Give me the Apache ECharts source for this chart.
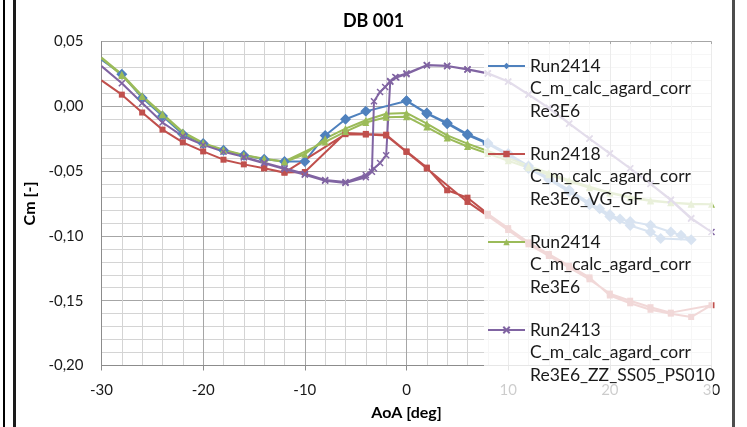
<!DOCTYPE html>
<html>
<head>
<meta charset="utf-8">
<script src="https://cdn.jsdelivr.net/npm/echarts@6/dist/echarts.min.js"></script>
<style>
  html, body { margin: 0; padding: 0; background: #ffffff; }
  #chart { width: 747px; height: 427px; }
</style>
</head>
<body>
<div id="chart"></div>
<script>
// Pitching moment Cm versus angle of attack, full up/down sweeps per run.

// Run2414, C_m_calc_agard_corr, Re3E6 (diamonds)
const aoaRun2414a = [-30, -28, -26, -24, -22, -20, -18, -16, -14, -12, -10, -8, -6, -4, 0, 2, 4, 6, 8, 10, 12, 14, 16, 18, 20, 22, 24, 25, 28,
                     27, 26, 24, 22, 21, 20, 19, 18, 16, 14, 12, 10, 8, 6, 4, 2, 0];
const cmRun2414a  = [0.0360, 0.0247, 0.0065, -0.0075, -0.0216, -0.0288, -0.0340, -0.0378, -0.0409, -0.0425, -0.0425, -0.0226, -0.0100, -0.0039, 0.0041, -0.0057, -0.0134, -0.0222, -0.0290, -0.0378, -0.0480, -0.0565, -0.0660, -0.0760, -0.0850, -0.0920, -0.0970, -0.1020, -0.1030,
                     -0.0995, -0.0970, -0.0918, -0.0888, -0.0870, -0.0835, -0.0790, -0.0745, -0.0645, -0.0555, -0.0460, -0.0365, -0.0283, -0.0215, -0.0128, -0.0052, 0.0043];

// Run2418, C_m_calc_agard_corr, Re3E6_VG_GF (squares)
const aoaRun2418 = [-30, -28, -26, -24, -22, -20, -18, -16, -14, -12, -10, -6, -4, -2, 0, 2, 4, 6, 8, 10, 12, 14, 16, 18, 20, 22, 24, 26, 28, 30,
                    26, 24, 22, 20, 18, 16, 14, 12, 10, 8, 6, 2, 0, -2, -4, -6, -12, -14];
const cmRun2418  = [0.0200, 0.0090, -0.0048, -0.0180, -0.0278, -0.0348, -0.0412, -0.0448, -0.0478, -0.0510, -0.0507, -0.0206, -0.0213, -0.0219, -0.0348, -0.0473, -0.0648, -0.0705, -0.0830, -0.0940, -0.1050, -0.1140, -0.1230, -0.1320, -0.1460, -0.1520, -0.1570, -0.1600, -0.1626, -0.1535,
                    -0.1592, -0.1550, -0.1500, -0.1445, -0.1335, -0.1245, -0.1155, -0.1065, -0.0955, -0.0845, -0.0738, -0.0480, -0.0352, -0.0225, -0.0218, -0.0215, -0.0512, -0.0478];

// Run2414, C_m_calc_agard_corr, Re3E6 (triangles)
const aoaRun2414b = [-30, -28, -26, -24, -22, -20, -18, -16, -14, -12, -10, -8, -6, -4, -2, 0, 2, 4, 6, 8, 10, 12, 14, 16, 18, 20, 22, 24, 26, 28, 30,
                     28, 26, 24, 22, 20, 18, 16, 14, 12, 10, 8, 6, 4, 2, 0, -2, -4, -6, -8, -12, -14, -16, -18, -20, -22, -24, -26, -28, -30];
const cmRun2414b  = [0.0370, 0.0238, 0.0075, -0.0065, -0.0205, -0.0285, -0.0335, -0.0375, -0.0405, -0.0430, -0.0370, -0.0250, -0.0172, -0.0108, -0.0057, -0.0051, -0.0134, -0.0224, -0.0288, -0.0345, -0.0400, -0.0460, -0.0515, -0.0570, -0.0620, -0.0665, -0.0700, -0.0725, -0.0742, -0.0752, -0.0756,
                     -0.0755, -0.0745, -0.0730, -0.0705, -0.0670, -0.0628, -0.0580, -0.0528, -0.0475, -0.0420, -0.0365, -0.0310, -0.0245, -0.0160, -0.0080, -0.0085, -0.0125, -0.0195, -0.0275, -0.0425, -0.0405, -0.0378, -0.0338, -0.0282, -0.0198, -0.0058, 0.0082, 0.0248, 0.0376];

// Run2413, C_m_calc_agard_corr, Re3E6_ZZ_SS05_PS010 (crosses)
const aoaRun2413 = [-30, -28, -26, -24, -22, -20, -18, -16, -14, -12, -10, -8, -6, -4, -3.2, -2.6, -2, -1.6, -1, 0, 2, 4, 6, 8, 10, 12, 14, 16, 18, 20, 22, 24, 26, 28, 30,
                    28, 26, 24, 22, 20, 18, 16, 14, 12, 10, 8, 6, 4, 2, 0, -1.1, -1.6, -2.1, -2.6, -3.2, -3.4, -4, -6, -8, -10, -12, -14, -16];
const cmRun2413  = [0.0310, 0.0178, 0.0025, -0.0125, -0.0232, -0.0298, -0.0350, -0.0390, -0.0435, -0.0478, -0.0520, -0.0568, -0.0585, -0.0530, -0.0480, -0.0437, -0.0378, 0.0190, 0.0222, 0.0248, 0.0316, 0.0310, 0.0283, 0.0252, 0.0190, 0.0090, -0.0015, -0.0135, -0.0250, -0.0365, -0.0480, -0.0600, -0.0725, -0.0867, -0.0970,
                    -0.0862, -0.0720, -0.0598, -0.0478, -0.0362, -0.0248, -0.0132, -0.0012, 0.0092, 0.0192, 0.0255, 0.0286, 0.0312, 0.0318, 0.0254, 0.0226, 0.0195, 0.0149, 0.0110, 0.0039, -0.0505, -0.0548, -0.0592, -0.0575, -0.0528, -0.0485, -0.0440, -0.0395];

// Legend entries (the second Run2414 entry carries a zero-width space so both entries stay separate)
const seriesNames = [
  'Run2414\nC_m_calc_agard_corr\nRe3E6',
  'Run2418\nC_m_calc_agard_corr\nRe3E6_VG_GF',
  'Run2414\nC_m_calc_agard_corr\nRe3E6\u200b',
  'Run2413\nC_m_calc_agard_corr\nRe3E6_ZZ_SS05_PS010'
];

// Axis ranges and tick steps
const xRange = [-30, 30];
const xStep = 10;
const yRange = [-0.20, 0.05];
const yStep = 0.05;

const FONT = 'Lato, "Open Sans", sans-serif';
const pairs = (xs, ys) => xs.map((x, i) => [x, ys[i]]);
// markers at the left plot edge are not drawn
const markerSize = (s) => (v) => (v[0] <= xRange[0] ? 0 : s);

const chart = echarts.init(document.getElementById('chart'), null, { renderer: 'canvas' });

const lineSeries = (name, data, color, symbol, size, extraItem) => ({
  name: name,
  type: 'line',
  data: data,
  color: color,
  symbol: symbol,
  symbolSize: markerSize(size),
  showSymbol: true,
  clip: true,
  lineStyle: { color: color, width: 2 },
  itemStyle: Object.assign({ color: color, borderColor: color, borderWidth: 0 }, extraItem || {}),
  emphasis: { disabled: true },
  animation: false,
  z: 2
});

chart.setOption({
  animation: false,
  backgroundColor: '#ffffff',
  title: {
    text: 'DB 001',
    left: 'center',
    top: 7,
    textStyle: { fontFamily: FONT, fontSize: 18, fontWeight: 'bold', color: '#000000' }
  },
  grid: {
    left: 101.5, right: 35.5, top: 41.5, bottom: 61.5,
    containLabel: false,
    outerBoundsMode: 'none'
  },
  xAxis: {
    type: 'value',
    min: xRange[0], max: xRange[1], interval: xStep,
    name: 'AoA [deg]',
    nameLocation: 'middle',
    nameGap: 39,
    nameTextStyle: { fontFamily: FONT, fontSize: 16, fontWeight: 'bold', color: '#000000' },
    axisLine: { show: true, onZero: false, lineStyle: { color: '#8c8c8c', width: 1 } },
    axisTick: { show: true, length: 5, lineStyle: { color: '#8c8c8c' } },
    axisLabel: { fontFamily: FONT, fontSize: 15, color: '#1a1a1a', margin: 17 },
    splitLine: { show: true, lineStyle: { color: '#a6a6a6', width: 1 } },
    minorTick: { show: false, splitNumber: 5 },
    minorSplitLine: { show: true, lineStyle: { color: '#d4d4d4', width: 1 } }
  },
  yAxis: {
    type: 'value',
    min: yRange[0], max: yRange[1], interval: yStep,
    name: 'Cm [-]',
    nameLocation: 'middle',
    nameGap: 63,
    nameTextStyle: { fontFamily: FONT, fontSize: 16, fontWeight: 'bold', color: '#000000' },
    axisLine: { show: true, onZero: false, lineStyle: { color: '#8c8c8c', width: 1 } },
    axisTick: { show: false },
    axisLabel: {
      fontFamily: FONT, fontSize: 15, color: '#1a1a1a', margin: 18,
      formatter: (v) => v.toFixed(2).replace('-0.00', '0.00').replace('.', ',')
    },
    splitLine: { show: true, lineStyle: { color: '#a6a6a6', width: 1 } },
    minorTick: { show: false, splitNumber: 5 },
    minorSplitLine: { show: true, lineStyle: { color: '#d4d4d4', width: 1 } }
  },
  legend: {
    orient: 'vertical',
    left: 487,
    top: 9,
    padding: 0,
    itemWidth: 37,
    itemHeight: 8,
    itemGap: -26,
    selectedMode: false,
    z: 20,
    data: seriesNames,
    // two leading empty lines keep the line icon level with the first text row
    formatter: (name) => '\n\n' + name,
    textStyle: { fontFamily: FONT, fontSize: 17.5, lineHeight: 22.8, color: '#1a1a1a' }
  },
  graphic: {
    elements: [
      // translucent legend panel over the plot
      { type: 'rect', z: 10, silent: true,
        shape: { x: 484, y: 44, width: 229, height: 356 },
        style: { fill: 'rgba(255,255,255,0.78)' } },
      // frame edges
      { type: 'line', z: 30, silent: true, shape: { x1: 4, y1: 0, x2: 4, y2: 427 },
        style: { stroke: '#000000', lineWidth: 2 } },
      { type: 'line', z: 30, silent: true, shape: { x1: 14.5, y1: 0, x2: 14.5, y2: 427 },
        style: { stroke: '#1a1a1a', lineWidth: 3 } },
      { type: 'line', z: 30, silent: true, shape: { x1: 733.5, y1: 0, x2: 733.5, y2: 427 },
        style: { stroke: '#4d4d4d', lineWidth: 3 } }
    ]
  },
  series: [
    lineSeries(seriesNames[0], pairs(aoaRun2414a, cmRun2414a), '#4f81bd', 'diamond', 11),
    lineSeries(seriesNames[1], pairs(aoaRun2418, cmRun2418), '#c0504d', 'rect', 6),
    lineSeries(seriesNames[2], pairs(aoaRun2414b, cmRun2414b), '#9bbb59', 'triangle', 7),
    lineSeries(seriesNames[3], pairs(aoaRun2413, cmRun2413), '#8064a2',
      'path://M0,0L10,10M10,0L0,10', 6, { color: 'rgba(0,0,0,0)', borderColor: '#8064a2', borderWidth: 1.5 })
  ]
});
</script>
</body>
</html>
